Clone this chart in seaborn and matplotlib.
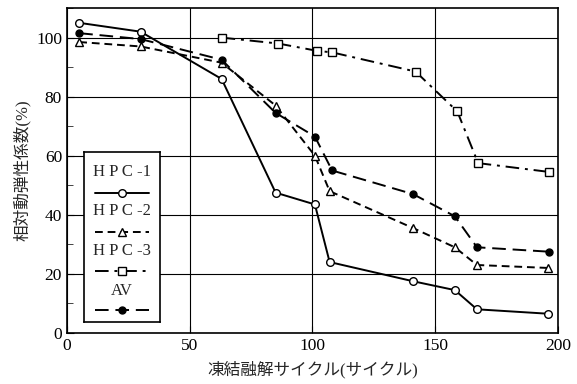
import numpy as np
import pandas as pd
import seaborn as sns
import matplotlib.pyplot as plt
from matplotlib.ticker import MultipleLocator

# cycles / relative dynamic modulus (%)
hpc1_x = [5, 30, 63, 85, 101, 107, 141, 158, 167, 196]
hpc1_y = [105, 102, 86, 47.5, 43.5, 24, 17.5, 14.5, 8, 6.5]
hpc2_x = [5, 30, 63, 85, 101, 107, 141, 158, 167, 196]
hpc2_y = [98.5, 97, 91.5, 77, 60, 48, 35.5, 29, 23, 22]
hpc3_x = [63, 86, 102, 108, 142, 159, 167.5, 196.5]
hpc3_y = [100, 98, 95.5, 95, 88.5, 75, 57.5, 54.5]
av_x = [5, 30, 63, 85, 101, 108, 141, 158, 167, 196.5]
av_y = [101.5, 99.5, 92.5, 74.5, 66.5, 55, 47, 39.5, 29, 27.5]

labels = ['H P C -1', 'H P C -2', 'H P C -3', 'AV']
series = [(hpc1_x, hpc1_y), (hpc2_x, hpc2_y), (hpc3_x, hpc3_y), (av_x, av_y)]

sns.set_style('white')
plt.rcParams['font.family'] = ['Liberation Serif', 'Noto Sans CJK JP']

styles = [
    dict(linestyle='-', marker='o', mfc='white', ms=5.5),
    dict(dashes=(4, 2.5), marker='^', mfc='white', ms=6),
    dict(dashes=(7, 3, 1.5, 3), marker='s', mfc='white', ms=6),
    dict(dashes=(7, 3.5), marker='o', mfc='black', ms=5),
]

fig = plt.figure(figsize=(5.77, 3.84), dpi=100)
ax = fig.add_axes([0.116, 0.133, 0.851, 0.846])

for (x, y), st in zip(series, styles):
    df = pd.DataFrame({'x': x, 'y': y})
    sns.lineplot(data=df, x='x', y='y', ax=ax, color='black', lw=1.4,
                 mec='black', mew=1.0, sort=False, **st)

ax.set_xlim(0, 200)
ax.set_ylim(0, 110)
ax.set_xticks([0, 50, 100, 150, 200])
ax.set_yticks([0, 20, 40, 60, 80, 100])
ax.yaxis.set_minor_locator(MultipleLocator(10))
ax.grid(True, which='major', color='black', lw=0.8)
ax.tick_params(axis='both', which='major', direction='in', length=5, labelsize=12.5, colors='black')
ax.tick_params(axis='y', which='minor', direction='in', length=4, left=True)
ax.tick_params(left=True, bottom=True)
for s in ax.spines.values():
    s.set_color('black')
    s.set_linewidth(1.2)

ax.set_xlabel('凍結融解サイクル(サイクル)', fontsize=12, labelpad=5)
ax.set_ylabel('相対動弾性係数(%)', fontsize=12, labelpad=4)

# legend box (labels above line samples)
lax = ax.inset_axes([0.035, 0.034, 0.154, 0.523])
lax.set_xlim(0, 1)
lax.set_ylim(0, 1)
lax.set_xticks([])
lax.set_yticks([])
lax.set_facecolor('white')
for s in lax.spines.values():
    s.set_linewidth(1.2)
    s.set_color('black')
text_y = [0.88, 0.65, 0.42, 0.18]
line_y = [0.76, 0.53, 0.30, 0.07]
for lab, st, ty, ly in zip(labels, styles, text_y, line_y):
    lax.text(0.5, ty, lab, ha='center', va='center', fontsize=12)
    kw = {k: v for k, v in st.items() if k not in ('marker', 'mfc', 'ms')}
    lax.plot([0.14, 0.86], [ly, ly], color='black', lw=1.4, **kw)
    lax.plot([0.5], [ly], marker=st['marker'], mfc=st['mfc'], mec='black',
             markersize=st['ms'], color='black')

fig.savefig('out.png', dpi=100)
